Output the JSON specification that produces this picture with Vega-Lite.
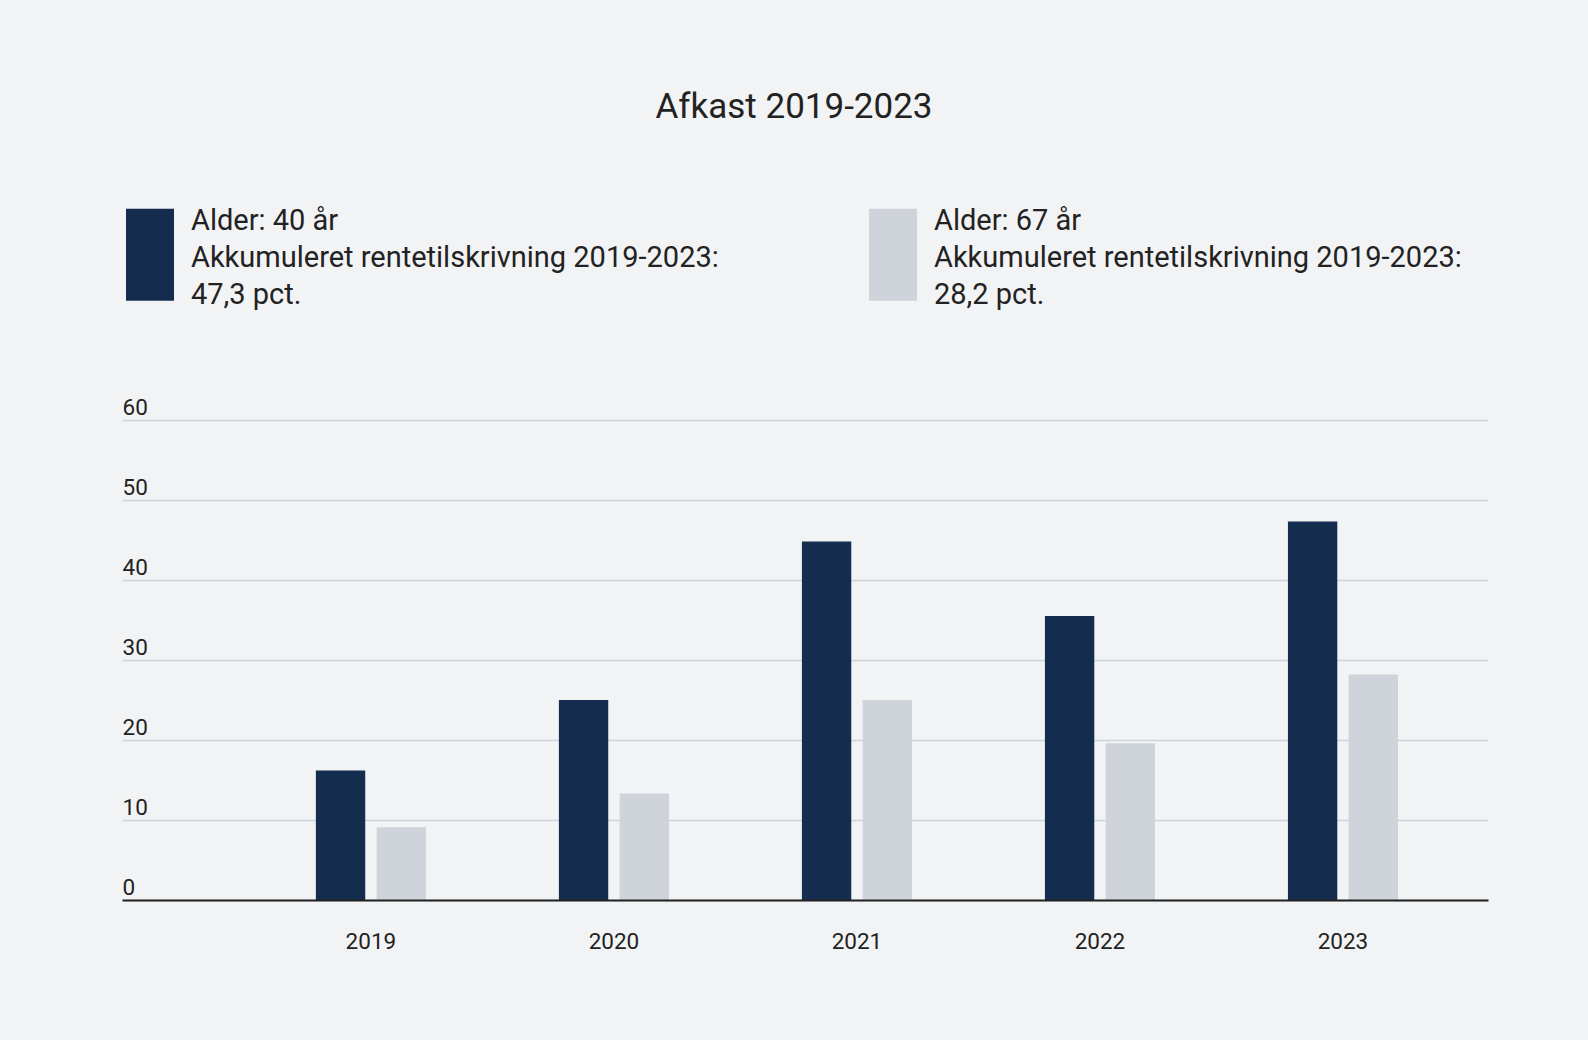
{
  "$schema": "https://vega.github.io/schema/vega-lite/v6.json",
  "width": 1366,
  "height": 480,
  "autosize": {"type": "none"},
  "padding": {"left": 122, "top": 420, "right": 100, "bottom": 140},
  "background": "#f2f3f5",
  "title": {
    "text": "Afkast 2019-2023",
    "font": "Roboto",
    "fontSize": 35,
    "fontWeight": "normal",
    "color": "#222222",
    "anchor": "middle",
    "dx": -11,
    "offset": 72
  },
  "data": {
    "values": [
      {"year": "2019", "alder": "40 år", "value": 16.2},
      {"year": "2019", "alder": "67 år", "value": 9.1},
      {"year": "2020", "alder": "40 år", "value": 25.0},
      {"year": "2020", "alder": "67 år", "value": 13.3},
      {"year": "2021", "alder": "40 år", "value": 44.8},
      {"year": "2021", "alder": "67 år", "value": 25.0},
      {"year": "2022", "alder": "40 år", "value": 35.5},
      {"year": "2022", "alder": "67 år", "value": 19.6},
      {"year": "2023", "alder": "40 år", "value": 47.3},
      {"year": "2023", "alder": "67 år", "value": 28.2}
    ]
  },
  "mark": {"type": "bar"},
  "encoding": {
    "x": {
      "field": "year",
      "type": "nominal",
      "scale": {"paddingInner": 0.547, "paddingOuter": 0.584, "align": 0.683},
      "axis": {
        "title": null,
        "labelAngle": 0,
        "ticks": false,
        "tickSize": 0,
        "grid": false,
        "domainColor": "#222222",
        "domainWidth": 2,
        "labelPadding": 30,
        "labelFont": "Roboto",
        "labelFontSize": 22.5,
        "labelColor": "#222222",
        "zindex": 1
      }
    },
    "xOffset": {
      "field": "alder",
      "type": "nominal",
      "scale": {"paddingInner": 0.187, "paddingOuter": 0}
    },
    "y": {
      "field": "value",
      "type": "quantitative",
      "scale": {"domain": [0, 60]},
      "axis": {
        "title": null,
        "values": [0, 10, 20, 30, 40, 50, 60],
        "domain": false,
        "ticks": false,
        "tickSize": 0,
        "labelAlign": "left",
        "labelBaseline": "alphabetic",
        "labelPadding": 0,
        "labelOffset": -6,
        "labelFont": "Roboto",
        "labelFontSize": 22.5,
        "labelColor": "#222222",
        "gridColor": "#cdd3da",
        "gridWidth": 1.5,
        "gridOpacity": 1
      }
    },
    "color": {
      "field": "alder",
      "type": "nominal",
      "scale": {"domain": ["40 år", "67 år"], "range": ["#142c4e", "#cfd4db"]},
      "legend": {
        "orient": "none",
        "legendX": 4,
        "legendY": -223,
        "direction": "horizontal",
        "columns": 2,
        "columnPadding": 150,
        "title": null,
        "padding": 0,
        "symbolType": "M-1,-0.525H1V3.31H-1Z",
        "symbolSize": 2304,
        "symbolStrokeWidth": 0,
        "symbolOpacity": 1,
        "labelFont": "Roboto",
        "labelFontSize": 29,
        "labelColor": "#222222",
        "labelLimit": 800,
        "labelOffset": 17,
        "labelExpr": "datum.value == '40 år' ? ['Alder: 40 år', 'Akkumuleret rentetilskrivning 2019-2023:', '47,3 pct.'] : ['Alder: 67 år', 'Akkumuleret rentetilskrivning 2019-2023:', '28,2 pct.']",
        "encode": {"labels": {"update": {"lineHeight": {"value": 36.7}}}}
      }
    }
  },
  "config": {
    "view": {"stroke": null},
    "font": "Roboto"
  }
}
